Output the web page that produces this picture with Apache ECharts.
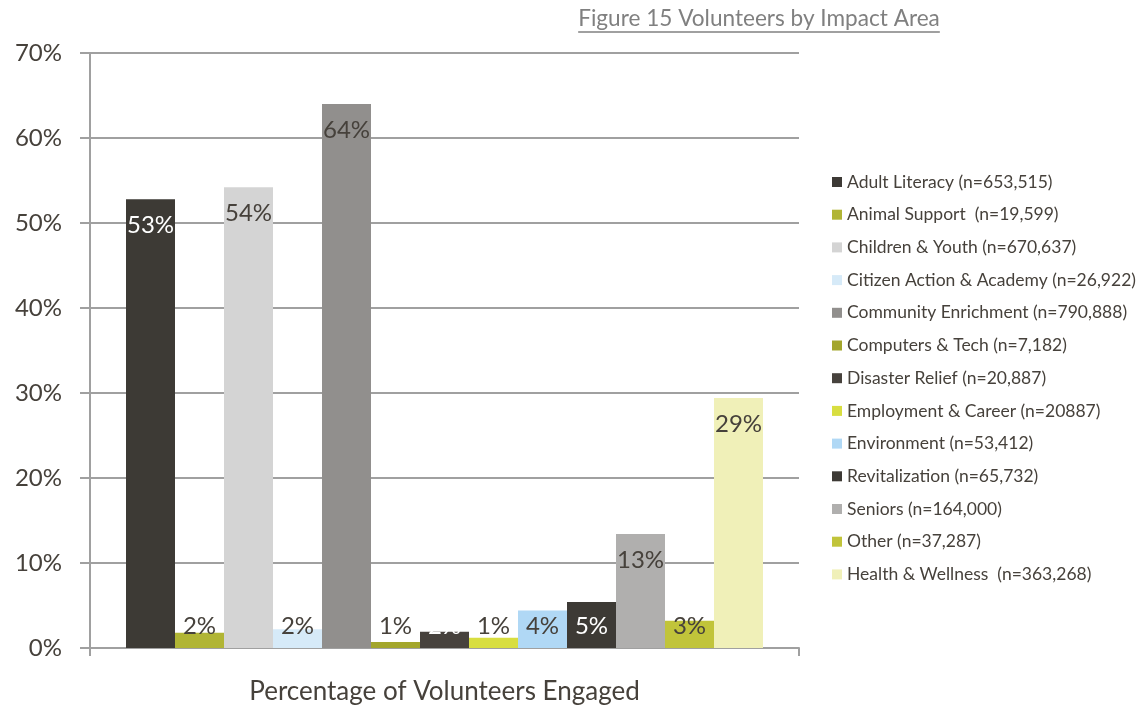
<!DOCTYPE html>
<html>
<head>
<meta charset="utf-8">
<style>
  html, body { margin: 0; padding: 0; background: #ffffff; }
  #chart { width: 1143px; height: 713px; }
</style>
<script src="https://cdn.jsdelivr.net/npm/echarts@6/dist/echarts.min.js"></script>
</head>
<body>
<div id="chart"></div>
<script>
// Impact areas and share of volunteers engaged in each (percent)
const categories = ['Percentage of Volunteers Engaged'];
const seriesNames = [
  'Adult Literacy (n=653,515)',
  'Animal Support  (n=19,599)',
  'Children & Youth (n=670,637)',
  'Citizen Action & Academy (n=26,922)',
  'Community Enrichment (n=790,888)',
  'Computers & Tech (n=7,182)',
  'Disaster Relief (n=20,887)',
  'Employment & Career (n=20887)',
  'Environment (n=53,412)',
  'Revitalization (n=65,732)',
  'Seniors (n=164,000)',
  'Other (n=37,287)',
  'Health & Wellness  (n=363,268)'
];
const seriesValues = [52.8, 1.8, 54.2, 2.2, 64.0, 0.7, 1.9, 1.2, 4.4, 5.4, 13.4, 3.2, 29.4];
const yTicks = [0, 10, 20, 30, 40, 50, 60, 70];

// Palette and label ink per series
const barColors = ['#3d3a35', '#b1b535', '#d4d4d4', '#d6eaf8', '#918f8d', '#a3a62c', '#47423d',
                   '#d8de40', '#b0d8f5', '#3d3a35', '#b0afae', '#c1c43a', '#f0f0b8'];
const labelInk = ['#ffffff', '#46413b', '#46413b', '#46413b', '#46413b', '#46413b', '#ffffff',
                  '#46413b', '#46413b', '#ffffff', '#46413b', '#46413b', '#46413b'];

const FONT = 'Lato, "Liberation Sans", sans-serif';
const titleText = 'Figure 15 Volunteers by Impact Area';
const titleFont = '22.6px ' + FONT;

// measure the title so the underline spans it exactly
const ctx = document.createElement('canvas').getContext('2d');
ctx.font = titleFont;
const titleW = ctx.measureText(titleText).width;
const titleCx = 759;

const chart = echarts.init(document.getElementById('chart'), null, { renderer: 'canvas' });

const series = seriesNames.map((name, i) => {
  const v = seriesValues[i];
  const shortBar = v < 6;
  return {
    name: name,
    type: 'bar',
    barWidth: 49,
    barGap: '0%',
    itemStyle: { color: barColors[i] },
    label: {
      show: true,
      position: shortBar ? 'insideBottom' : 'insideTop',
      distance: shortBar ? 10 : 14,
      formatter: p => Math.round(p.value) + '%',
      fontFamily: FONT,
      fontSize: 24,
      color: labelInk[i]
    },
    data: [v]
  };
});

chart.setOption({
  backgroundColor: '#ffffff',
  animation: false,
  color: barColors,
  grid: { left: 90, right: 344, top: 53, bottom: 65, containLabel: false },
  graphic: [
    {
      type: 'text',
      left: titleCx - titleW / 2,
      top: 7,
      style: { text: titleText, font: titleFont, fill: '#808080' }
    },
    {
      type: 'line',
      shape: { x1: titleCx - titleW / 2, y1: 32, x2: titleCx + titleW / 2, y2: 32 },
      style: { stroke: '#808080', lineWidth: 1.5 }
    }
  ],
  legend: {
    orient: 'vertical',
    left: 827,
    top: 168,
    itemWidth: 10,
    itemHeight: 10,
    itemGap: 14.7,
    icon: 'rect',
    textStyle: { fontFamily: FONT, fontSize: 17.5, color: '#46413b' },
    data: seriesNames
  },
  xAxis: {
    type: 'category',
    data: categories,
    axisLine: { show: true, lineStyle: { color: '#a0a0a0', width: 2 } },
    axisTick: { show: true, length: 8, lineStyle: { color: '#a0a0a0', width: 2 } },
    axisLabel: { fontFamily: FONT, fontSize: 26, color: '#46413b', margin: 31 }
  },
  yAxis: {
    type: 'value',
    min: yTicks[0],
    max: yTicks[yTicks.length - 1],
    interval: 10,
    axisLine: { show: true, lineStyle: { color: '#a0a0a0', width: 2 } },
    axisTick: { show: true, length: 10, lineStyle: { color: '#a0a0a0', width: 2 } },
    axisLabel: {
      fontFamily: FONT, fontSize: 24, color: '#46413b', margin: 28,
      formatter: '{value}%'
    },
    splitLine: { show: true, lineStyle: { color: '#a0a0a0', width: 2 } }
  },
  series: series
});
</script>
</body>
</html>
